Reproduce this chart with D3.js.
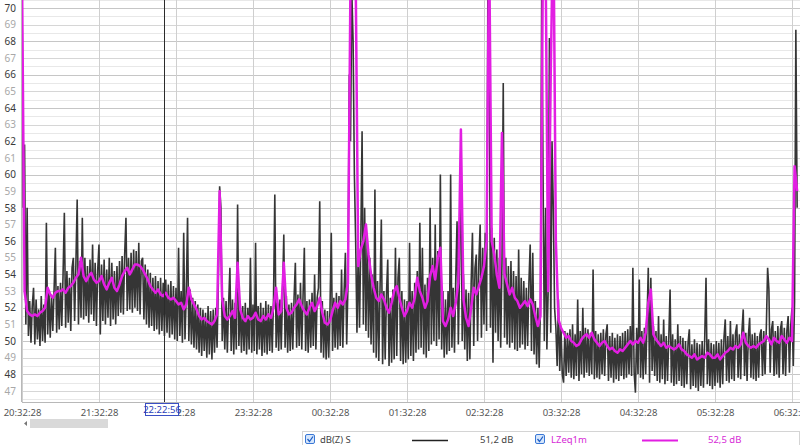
<!DOCTYPE html>
<html><head><meta charset="utf-8">
<script src="https://cdn.jsdelivr.net/npm/d3@7"></script>
<style>
html,body{margin:0;padding:0;background:#fff;}
svg{display:block;font-family:"Noto Sans","Open Sans",sans-serif;}
</style></head>
<body>
<svg id="chart" width="800" height="445"></svg>
<script>
// ---- data ----
const xTickLabels = ["20:32:28","21:32:28","22:32:28","23:32:28","00:32:28","01:32:28","02:32:28","03:32:28","04:32:28","05:32:28","06:32:28"];
const xTickMinutes = [0,60,120,180,240,300,360,420,480,540,600];
const yTicks = [47,48,49,50,51,52,53,54,55,56,57,58,59,60,61,62,63,64,65,66,67,68,69,70];
const cursorMinute = 110.47;
const cursorLabel = "22:22:56";
const seriesNames = ["dB(Z) S","LZeq1m"];
const seriesValues = ["51,2 dB","52,5 dB"];

// dB(Z) S, one value per minute from 20:32:28
const dbzS = [
71,58,61.8,51.0,58.0,50.3,52.4,49.9,52.1,53.2,49.8,52.5,50.1,51.9,49.7,52.7,50.0,52.2,49.9,57.1,50.4,53.0,50.2,52.8,50.6,53.1,55.6,50.5,53.3,50.7,
53.5,50.9,54.0,57.7,50.8,54.2,51.1,53.8,50.6,54.4,55.0,51.2,54.6,58.5,51.0,54.8,51.4,57.4,51.3,55.0,51.5,54.5,51.1,54.9,51.6,55.8,51.2,54.7,50.9,54.3,
55.8,50.4,54.6,51.2,54.9,51.0,54.3,51.4,55.0,50.9,54.7,51.3,54.2,51.0,54.5,51.5,54.8,51.7,55.1,51.6,55.2,57.4,51.8,55.0,51.9,55.3,51.7,55.5,52.0,55.4,
51.8,55.9,51.6,54.8,55.0,51.3,54.6,51.0,54.3,50.8,54.1,50.9,53.8,50.6,53.9,50.7,53.6,50.4,53.8,50.6,53.5,50.3,53.7,50.5,53.4,50.2,53.6,50.4,53.3,50.1,
53.2,50.0,55.6,50.3,53.0,49.9,56.5,50.1,52.8,57.4,50.0,53.1,49.8,52.6,49.6,52.4,49.5,52.2,49.3,52.0,49.1,51.9,49.4,51.7,49.0,52.1,49.2,51.8,48.9,51.9,
49.3,52.0,49.6,53.5,59.3,58.0,50.0,52.6,49.5,52.4,49.3,52.2,54.4,49.4,52.5,49.2,52.3,49.5,58.2,49.7,52.4,49.3,52.1,49.4,52.3,49.2,52.0,49.5,55.0,49.3,
52.2,49.4,55.9,49.2,52.1,49.5,52.3,49.1,52.0,49.3,52.4,49.2,52.2,49.4,52.1,49.3,52.6,58.8,49.6,52.3,49.4,52.5,49.5,52.8,56.4,49.6,52.7,49.3,52.2,49.4,
52.3,49.5,52.6,54.7,49.6,52.8,49.7,53.5,49.5,52.7,55.6,49.4,52.4,49.3,52.5,49.6,52.9,49.7,54.0,49.5,52.6,53.2,58.4,49.3,52.4,49.0,51.9,48.9,51.8,49.0,
52.0,56.5,49.4,52.6,49.6,52.9,49.5,52.7,49.7,54.3,49.6,53.0,55.3,49.8,53.4,66.0,62.0,71.0,68.0,60.0,56.0,50.5,55.5,50.8,56.0,62.6,51.0,58.0,50.6,56.2,
50.2,55.0,49.8,54.0,49.3,59.1,49.0,53.6,48.8,53.2,57.3,48.6,53.0,48.9,52.8,54.9,48.5,52.6,48.7,53.1,48.9,55.6,49.1,53.8,55.0,48.8,53.0,48.6,52.5,48.7,
52.4,48.9,55.9,49.1,53.0,48.8,53.5,49.3,54.2,49.5,57.1,49.6,55.6,49.2,53.4,49.0,53.8,49.4,58.0,49.8,55.0,50.0,57.0,49.7,55.4,50.1,60.0,49.5,53.0,49.0,
52.5,49.2,53.0,49.4,60.0,49.6,53.2,49.3,53.8,57.2,49.8,54.5,62.0,50.0,54.0,49.5,53.1,48.8,52.9,48.9,53.5,56.5,49.7,54.4,55.2,50.0,54.8,57.0,50.2,55.6,
51.0,56.5,50.6,71.0,71.0,50.8,56.8,48.7,56.2,50.5,55.5,50.0,55.0,49.6,54.7,65.5,50.2,55.0,49.8,54.5,49.6,54.8,49.9,54.2,49.5,53.9,49.4,55.5,49.6,53.8,
49.8,53.6,49.5,53.2,49.7,53.5,55.8,49.4,55.3,49.2,52.4,48.6,52.0,48.4,52.2,72.0,60.0,50.0,58.0,49.5,53.0,68.2,50.5,62.0,58.0,52.0,50.8,48.5,52.5,48.2,
50.8,48.0,47.5,50.6,47.9,50.5,48.1,50.7,47.8,51.0,47.7,50.4,47.9,52.5,47.6,50.6,48.0,52.0,47.8,50.8,48.1,50.7,47.9,50.5,48.0,54.3,47.7,50.6,47.8,50.4,
47.7,50.5,48.0,50.7,47.9,50.4,51.0,47.6,50.3,47.8,50.5,47.5,50.2,47.7,50.4,47.6,50.3,47.9,50.5,47.7,50.6,47.8,50.7,48.0,50.9,47.9,54.4,48.1,46.9,50.8,
48.0,53.7,47.8,50.6,47.7,50.8,48.0,51.0,54.4,47.5,53.8,48.2,50.9,47.9,50.6,47.6,51.5,47.5,50.4,47.7,51.3,47.4,50.3,47.6,50.2,53.1,47.5,50.4,47.3,50.1,
47.4,51.0,47.6,50.3,47.3,50.2,47.2,50.0,47.4,49.9,50.7,47.1,49.8,47.3,50.1,47.2,49.9,47.0,49.8,47.3,50.0,47.2,50.2,53.8,47.4,50.1,47.3,49.9,47.1,49.8,
47.3,50.0,47.5,49.9,47.2,50.1,47.4,50.2,51.3,47.6,50.3,47.5,51.2,47.7,50.4,47.6,50.5,51.0,47.8,50.4,47.7,50.6,51.9,47.9,50.5,47.6,50.3,51.4,47.8,50.4,
47.7,50.5,47.6,50.3,47.8,50.4,50.7,47.9,50.6,48.0,50.8,54.4,53.1,48.1,50.7,51.2,47.9,50.6,48.0,50.9,47.8,50.7,51.2,48.0,50.8,47.9,50.6,51.5,48.1,50.9,
52.0,48.5,52.4,68.7,58.0
];

// LZeq1m, one value every 2 minutes from 20:32:28
const lzeq1m = [
72,53,51.8,51.6,51.5,51.6,51.5,51.7,51.8,52.0,53.2,52.8,52.6,52.9,53.0,
53.0,53.1,52.9,53.2,53.3,53.5,53.8,54.0,55.0,53.9,53.6,53.9,54.1,53.7,53.5,
53.6,53.9,53.4,53.1,53.5,53.8,53.2,53.0,53.4,53.9,54.2,54.4,54.0,54.3,54.6,
54.6,54.5,54.3,54.0,53.7,53.3,53.1,52.9,53.1,52.8,52.7,52.9,52.6,52.5,52.6,
52.4,52.2,52.3,51.9,52.2,53.2,52.5,52.2,51.9,51.5,51.3,51.4,51.2,51.1,51.0,
51.2,51.6,59.0,52.5,51.5,51.3,51.5,51.8,51.4,54.7,51.9,51.4,51.2,51.5,51.3,
51.4,51.7,51.3,51.2,51.5,51.3,51.6,51.4,52.0,53.2,51.6,51.8,54.7,52.0,51.6,
51.7,52.0,52.2,52.5,52.1,51.8,51.6,52.0,52.3,51.8,52.1,52.6,51.7,51.1,51.0,
51.2,51.8,52.3,52.0,52.4,52.2,52.5,53.5,72,76,72,54.5,55.5,56.0,57.0,
55.2,54.0,53.2,52.6,52.4,52.8,52.5,52.0,51.7,52.3,53.0,53.3,52.6,52.0,51.5,
51.8,52.3,52.0,52.6,53.8,53.0,52.6,52.0,52.4,53.9,54.5,53.7,55.0,55.6,51.2,
50.9,51.3,52.0,51.5,52.3,53.5,62.7,52.5,51.4,50.9,52.0,53.2,52.8,53.3,53.8,
54.5,56.0,74,56.0,55.2,54.0,53.2,62.5,54.0,53.4,52.8,53.2,52.6,52.4,52.0,
52.2,52.4,52.1,52.5,52.2,51.5,50.9,51.5,74,73,53.0,66,76,56,51.3,
50.8,50.5,50.2,50.3,50.0,49.9,49.7,49.8,50.1,50.3,50.4,50.2,50.5,50.1,49.9,
49.7,49.9,50.0,49.7,49.5,49.6,49.4,49.3,49.5,49.4,49.6,49.8,50.0,49.8,50.0,
49.9,50.2,49.9,50.5,52.3,53.1,50.4,50.1,49.9,49.7,49.9,49.6,49.7,49.6,49.5,
49.6,49.8,49.5,49.4,49.2,49.1,49.0,49.2,48.9,49.0,49.1,49.0,49.3,49.2,49.0,
49.0,49.2,48.9,49.1,49.3,49.4,49.6,49.5,49.7,49.6,49.8,50.5,49.9,49.7,49.6,
49.7,49.6,49.8,49.9,50.0,50.3,50.1,49.8,50.2,50.0,49.9,50.3,50.1,49.9,50.2,
50.0,60.5,59
];

// ---- layout ----
const svg = d3.select("#chart");
const plot = {left:22, right:800, top:0, bottom:402};

const x = d3.scaleLinear().domain([0, 600]).range([22, 792]);
const y = d3.scaleLinear().domain([47, 70]).range([391, 8]);

svg.append("defs").append("clipPath").attr("id","clip")
  .append("rect").attr("x",plot.left).attr("y",plot.top)
  .attr("width",plot.right-plot.left).attr("height",plot.bottom-plot.top);

// horizontal grid (every 0.5 dB)
const gridVals = d3.range(46.5, 70.51, 0.5);
svg.append("g").selectAll("line").data(gridVals).join("line")
  .attr("x1",plot.left).attr("x2",plot.right)
  .attr("y1",d=>Math.round(y(d))+0.5).attr("y2",d=>Math.round(y(d))+0.5)
  .attr("stroke",d=> d%2===0 ? "#c6c6c6" : (d%1===0 ? "#d6d6d6" : "#e8e8e8"))
  .attr("stroke-width",1);

// vertical grid
svg.append("g").selectAll("line").data(xTickMinutes).join("line")
  .attr("x1",d=>Math.round(x(d))+0.5).attr("x2",d=>Math.round(x(d))+0.5)
  .attr("y1",plot.top).attr("y2",plot.bottom)
  .attr("stroke","#cfcfcf").attr("stroke-width",1);

// axes lines
svg.append("line").attr("x1",plot.left-0.5).attr("x2",plot.left-0.5)
  .attr("y1",0).attr("y2",plot.bottom).attr("stroke","#b8b8b8");
svg.append("line").attr("x1",plot.left).attr("x2",plot.right)
  .attr("y1",plot.bottom+0.5).attr("y2",plot.bottom+0.5).attr("stroke","#b8b8b8");

// y axis
const yAxis = svg.append("g").attr("transform",`translate(${plot.left-3},0)`)
  .call(d3.axisLeft(y).tickValues(yTicks).tickSize(0).tickFormat(d3.format("d")));
yAxis.select(".domain").remove();
yAxis.selectAll("text").attr("font-size","10px")
  .attr("fill",d=> d%2===0 ? "#3a3a3a" : "#a8a8a8")
  .attr("font-family","'Noto Sans',sans-serif");

// x axis
const xAxis = svg.append("g").attr("transform",`translate(0,${plot.bottom+2})`)
  .call(d3.axisBottom(x).tickValues(xTickMinutes).tickSize(0).tickFormat((d,i)=>xTickLabels[i]));
xAxis.select(".domain").remove();
xAxis.selectAll("text").attr("font-size","9.5px").attr("fill","#555").attr("dy","0.9em")
  .attr("font-family","'Noto Sans',sans-serif");

// series
const g = svg.append("g").attr("clip-path","url(#clip)");
const lineB = d3.line().x((d,i)=>x(i)).y(d=>y(d));
const lineM = d3.line().x((d,i)=>x(i*2)).y(d=>y(d));
g.append("path").datum(dbzS).attr("d",lineB)
  .attr("fill","none").attr("stroke","#353535").attr("stroke-width",1.6).attr("stroke-linejoin","bevel");
g.append("path").datum(lzeq1m).attr("d",lineM)
  .attr("fill","none").attr("stroke","#e21ee2").attr("stroke-width",2.5).attr("stroke-linejoin","round");

// cursor
const cx = Math.round(x(cursorMinute))+0.5;
svg.append("line").attr("x1",cx).attr("x2",cx).attr("y1",0).attr("y2",plot.bottom)
  .attr("stroke","#2b2b2b").attr("stroke-width",1);
svg.append("rect").attr("x",145.5).attr("y",403.5).attr("width",33).attr("height",12)
  .attr("fill","#fff").attr("stroke","#3a4fc4").attr("stroke-width",1);
svg.append("text").attr("x",162).attr("y",413).attr("text-anchor","middle")
  .attr("font-size","9.5px").attr("fill","#2b3fb8").text(cursorLabel);

// scrollbar
svg.append("path").attr("d","M27,421 L24,423.5 L27,426 Z").attr("fill","#777");
svg.append("rect").attr("x",30).attr("y",419).attr("width",78).attr("height",9).attr("fill","#d9d9d9");

// legend
const lg = svg.append("g");
lg.append("rect").attr("x",302.5).attr("y",431.5).attr("width",497).attr("height",20)
  .attr("fill","#fff").attr("stroke","#d4d4d4");
const legendItems = [
  {cb:305, tx:320, lx1:412, lx2:448, vx:480, color:"#222", tcolor:"#444", w:1.6},
  {cb:535, tx:551, lx1:642, lx2:678, vx:708, color:"#e21ee2", tcolor:"#d62ad6", w:2}
];
legendItems.forEach((it,i)=>{
  lg.append("rect").attr("x",it.cb+0.5).attr("y",434.5).attr("width",9).attr("height",9)
    .attr("rx",1.5).attr("fill","#d6e6fb").attr("stroke","#3a78d6");
  lg.append("path").attr("d",`M${it.cb+2.5},${439} L${it.cb+4.5},${441.5} L${it.cb+8},${436.5}`)
    .attr("fill","none").attr("stroke","#1f5fc8").attr("stroke-width",1.3);
  lg.append("text").attr("x",it.tx).attr("y",443).attr("font-size","9.5px")
    .attr("fill",it.tcolor).text(seriesNames[i]);
  lg.append("line").attr("x1",it.lx1).attr("x2",it.lx2).attr("y1",440.5).attr("y2",440.5)
    .attr("stroke",it.color).attr("stroke-width",it.w);
  lg.append("text").attr("x",it.vx).attr("y",443).attr("font-size","9.5px")
    .attr("fill",it.tcolor).text(seriesValues[i]);
});
</script>
</body></html>
